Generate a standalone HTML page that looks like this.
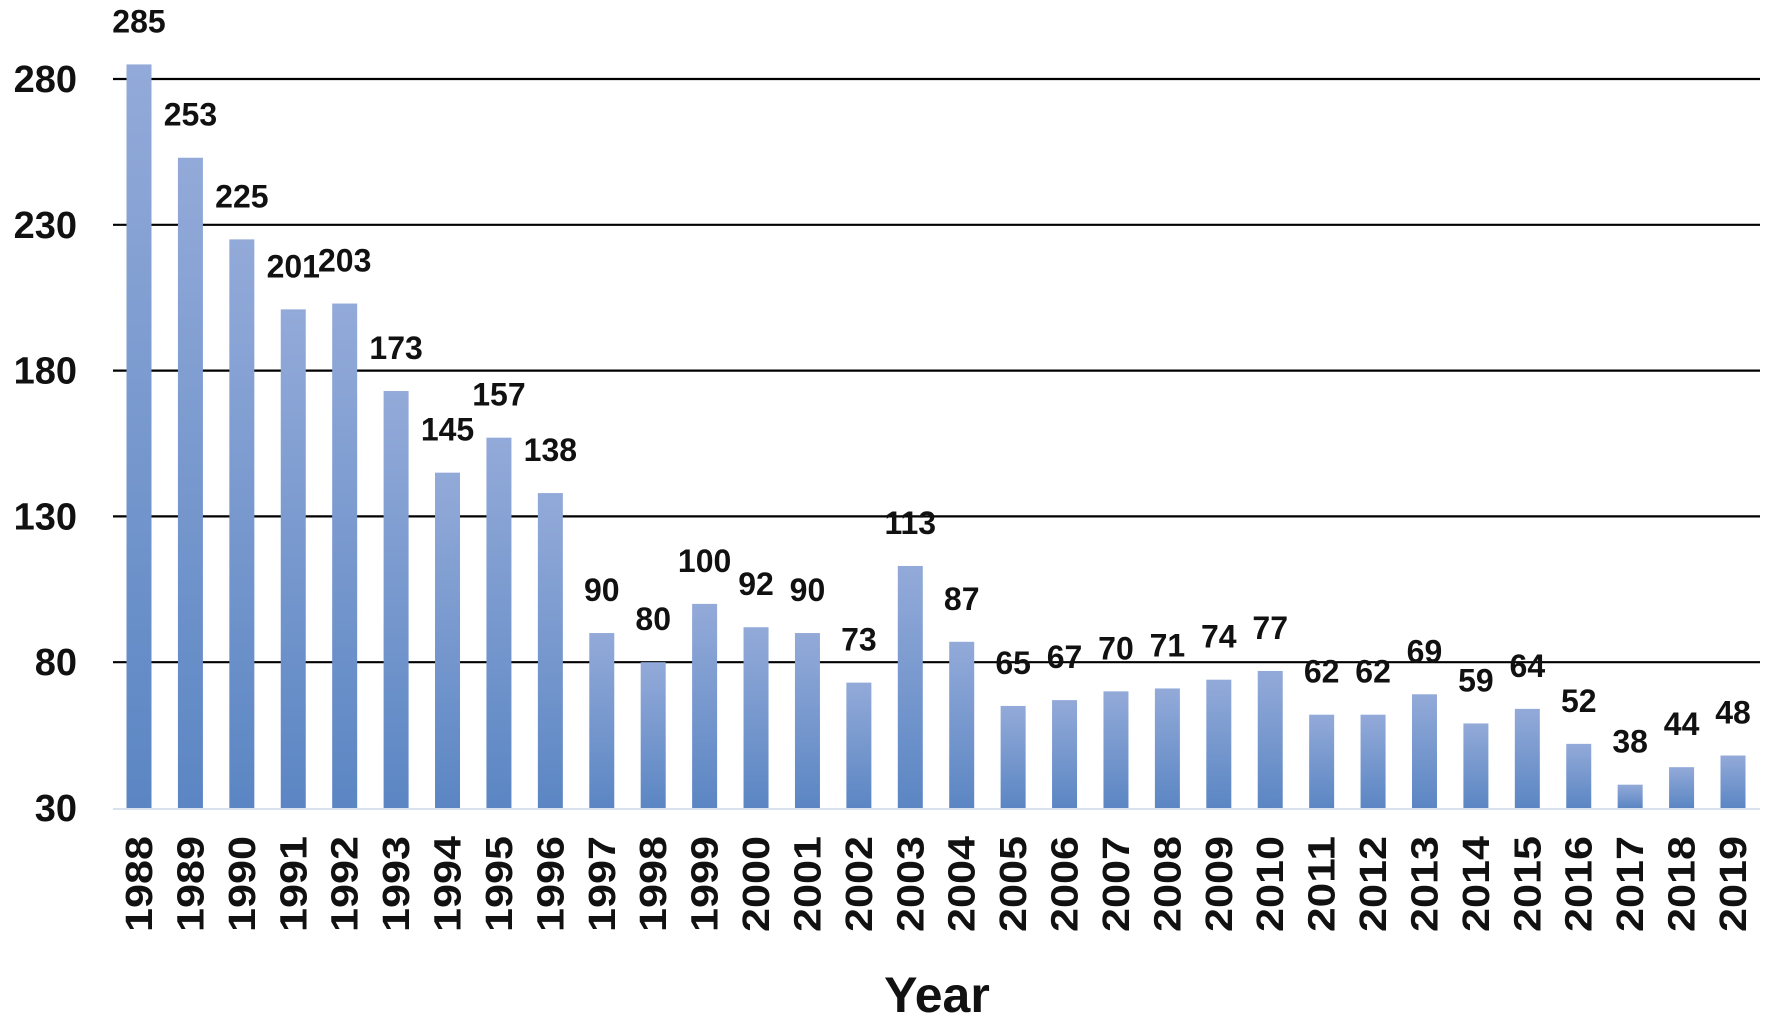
<!DOCTYPE html>
<html><head><meta charset="utf-8"><style>
html,body{margin:0;padding:0;background:#fff;}
svg{display:block;font-family:"Liberation Sans",sans-serif;}
</style></head><body>
<svg id="chart" width="1765" height="1023" viewBox="0 0 1765 1023">
<defs><linearGradient id="g" x1="0" y1="0" x2="0" y2="1"><stop offset="0" stop-color="#93aad9"/><stop offset="1" stop-color="#5b86c3"/></linearGradient></defs>
<g id="grid"></g><g id="bars"></g><g id="labels"></g>
<text x="937" y="1012" font-size="50" font-weight="bold" text-anchor="middle" fill="#111">Year</text>
</svg>
<script>
const years=[1988,1989,1990,1991,1992,1993,1994,1995,1996,1997,1998,1999,2000,2001,2002,2003,2004,2005,2006,2007,2008,2009,2010,2011,2012,2013,2014,2015,2016,2017,2018,2019];
const values=[285,253,225,201,203,173,145,157,138,90,80,100,92,90,73,113,87,65,67,70,71,74,77,62,62,69,59,64,52,38,44,48];
const ticks=[30,80,130,180,230,280];
const NS="http://www.w3.org/2000/svg";
const y=v=>808-(v-30)*(808-79)/250;
const x=i=>139+i*(1733-139)/31;
const grid=document.getElementById('grid'),bars=document.getElementById('bars'),labels=document.getElementById('labels');
function mk(tag,attrs,parent,txt){const e=document.createElementNS(NS,tag);for(const k in attrs)e.setAttribute(k,attrs[k]);if(txt!==undefined)e.textContent=txt;parent.appendChild(e);return e;}
ticks.forEach(t=>{
  if(t>30){const l=mk('line',{x1:113,x2:1760,y1:y(t),y2:y(t),stroke:'#000','stroke-width':2.2},grid);
  
  }
  const tx=mk('text',{x:77,y:y(t)+13,'font-size':38,'font-weight':'bold','text-anchor':'end',fill:'#111'},grid,t);
  
  
});
const base=mk('line',{x1:113,x2:1760,y1:y(30)+1,y2:y(30)+1,stroke:'#d9e1ee','stroke-width':2},grid);


years.forEach((yr,i)=>{
  const v=values[i],cx=x(i);
  const r=mk('rect',{x:cx-12.5,y:y(v),width:25,height:y(30)-y(v),fill:'url(#g)'},bars);
  
  
  const vl=mk('text',{x:cx,y:y(v)-32,'font-size':32,'font-weight':'bold','text-anchor':'middle',fill:'#111'},labels,v);
  
  
  const tl=mk('text',{x:0,y:0,'font-size':38,'font-weight':'bold','text-anchor':'end',textLength:96,lengthAdjust:'spacingAndGlyphs',fill:'#111',transform:`translate(${cx+13},836) rotate(-90)`},labels,yr);
  
  
});
</script>
</body></html>
